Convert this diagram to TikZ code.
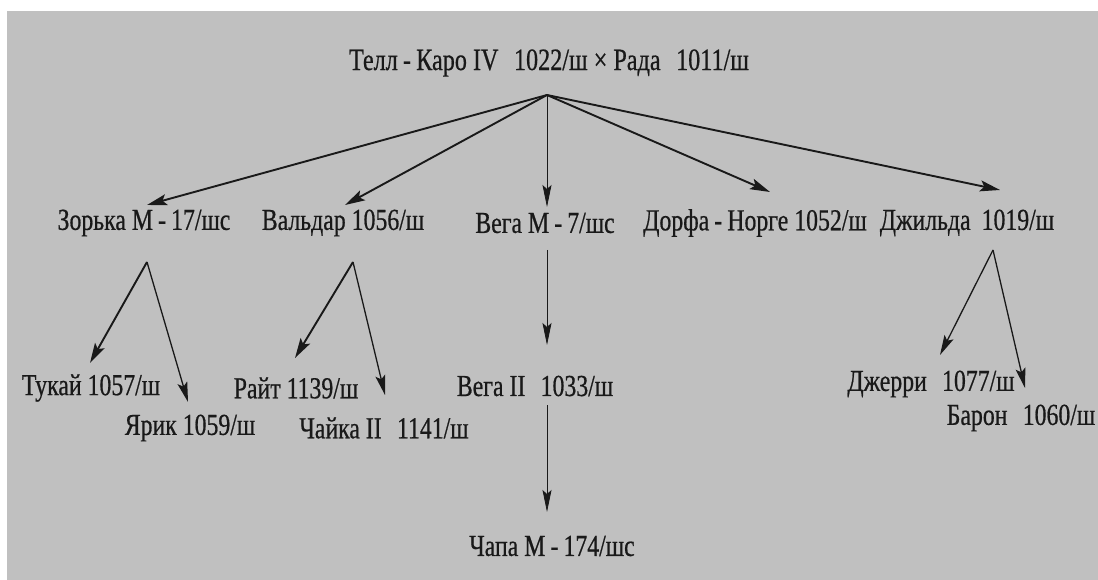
\documentclass[tikz,border=0pt]{standalone}
\usepackage{fontspec}
\setmainfont[FakeStretch=0.78,FakeBold=0.6]{Liberation Serif}
\usetikzlibrary{arrows.meta}
\definecolor{bg}{RGB}{192,192,192}
\definecolor{ink}{RGB}{25,25,25}
\begin{document}
\begin{tikzpicture}[x=1pt,y=-1pt,
  lbl/.style={inner sep=0pt, text=ink, font=\fontsize{30.5}{33}\selectfont},
  toplbl/.style={lbl, font=\fontsize{31}{34}\selectfont},
  bigarr/.style={draw=ink, line width=1.9pt, -{Stealth[length=20pt,width=11pt,inset=4pt]}},
  midarr/.style={draw=ink, line width=1.3pt, -{Stealth[length=20pt,width=10pt,inset=4pt]}},
  thinarr/.style={draw=ink, line width=0.8pt, -{Stealth[length=22pt,width=9pt,inset=4pt]}}]
\useasboundingbox (0,0) rectangle (1098,580);
\fill[white] (0,0) rectangle (1098,580);
\fill[bg] (7,11) rectangle (1098,580);
% nodes
\node[toplbl] (top) at (549,63) {Телл\,-\,Каро IV\enspace 1022/ш × Рада\enspace 1011/ш};
\node[lbl] (zor) at (144,223) {Зорька М\,-\,17/шс};
\node[lbl] (val) at (343,223) {Вальдар 1056/ш};
\node[lbl] (vega) at (545,223) {Вега М\,-\,7/шс};
\node[lbl] (dorf) at (755,223) {Дорфа\,-\,Норге 1052/ш};
\node[lbl] (dzh) at (967,223) {Джильда\, 1019/ш};
\node[lbl] (tuk) at (91,388) {Тукай 1057/ш};
\node[lbl] (yar) at (190,428) {Ярик 1059/ш};
\node[lbl] (rait) at (296,388) {Райт 1139/ш};
\node[lbl] (chai) at (384,428) {Чайка II\enspace 1141/ш};
\node[lbl] (vega2) at (535,386) {Вега II\enspace 1033/ш};
\node[lbl] (dzher) at (931,384) {Джерри\enspace 1077/ш};
\node[lbl] (baron) at (1021,418) {Барон\enspace 1060/ш};
\node[lbl] (chapa) at (552,546) {Чапа М\,-\,174/шс};
% branch points and arrow tips
\coordinate (apex) at (547,95);
\coordinate (zorin) at (147,205);
\coordinate (valin) at (345,205);
\coordinate (vegain) at (547,207);
\coordinate (dorfin) at (770,192);
\coordinate (dzhin) at (1000,190);
\coordinate (zorout) at (147,262);
\coordinate (tukin) at (90,363);
\coordinate (yarin) at (188,402);
\coordinate (valout) at (353,262);
\coordinate (raitin) at (295,358);
\coordinate (chaiin) at (385,395);
\coordinate (vegaout) at (547,250);
\coordinate (vega2in) at (547,345);
\coordinate (vega2out) at (547,405);
\coordinate (chapain) at (547,512);
\coordinate (dzhout) at (993,250);
\coordinate (dzherin) at (940,355);
\coordinate (baronin) at (1025,388);
% connectors
\draw[bigarr] (apex) -- (zorin);
\draw[bigarr] (apex) -- (valin);
\draw[thinarr] (apex) -- (vegain);
\draw[bigarr] (apex) -- (dorfin);
\draw[bigarr] (apex) -- (dzhin);
\draw[bigarr] (zorout) -- (tukin);
\draw[midarr] (zorout) -- (yarin);
\draw[bigarr] (valout) -- (raitin);
\draw[midarr] (valout) -- (chaiin);
\draw[thinarr] (vegaout) -- (vega2in);
\draw[thinarr] (vega2out) -- (chapain);
\draw[midarr] (dzhout) -- (dzherin);
\draw[midarr] (dzhout) -- (baronin);
\end{tikzpicture}
\end{document}
